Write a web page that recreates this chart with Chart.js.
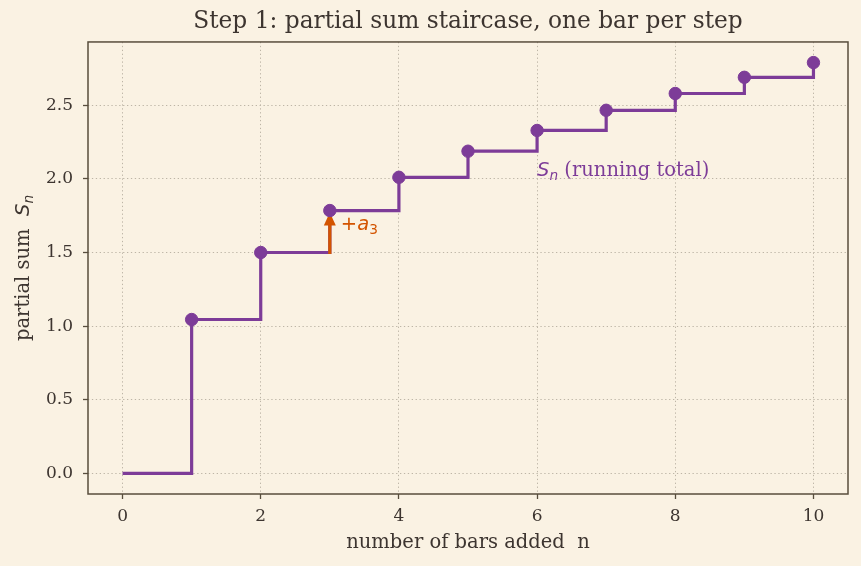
<!DOCTYPE html>
<html>
<head>
<meta charset="utf-8">
<script src="https://cdn.jsdelivr.net/npm/chart.js@4/dist/chart.umd.min.js"></script>
<style>
  html, body { margin: 0; padding: 0; background: #faf2e3; }
  #wrap { width: 861px; height: 566px; }
</style>
</head>
<body>
<div id="wrap"><canvas id="c" width="861" height="566"></canvas></div>
<script>
// ---- data ----
const barsAdded = [0, 1, 2, 3, 4, 5, 6, 7, 8, 9, 10];
const partialSums = [0, 1.045, 1.50, 1.785, 2.011, 2.188, 2.329, 2.466, 2.58, 2.69, 2.79];
const xTickValues = [0, 2, 4, 6, 8, 10];
const yTickValues = [0, 0.5, 1.0, 1.5, 2.0, 2.5];
const highlightStep = 3;
const chartTitle = 'Step 1: partial sum staircase, one bar per step';
const xAxisTitle = 'number of bars added  n';
const yAxisTitleText = 'partial sum  ';
const runningLabelText = ' (running total)';
const runningLabelAt = { x: 6.0, y: 2.022 };
const stepLabelAt = { x: 3.16, y: 1.64 };

// ---- styles ----
const BG = '#faf2e3';
const INK = '#3d3530';
const FRAME = '#584d3d';
const PURPLE = '#7d3c98';
const ORANGE = '#d35400';
const GRID = '#bdb5a6';
const SERIF = "'DejaVu Serif', 'Liberation Serif', serif";
const SANS = "'DejaVu Sans', sans-serif";
const LABEL_PX = 19.5;
const SUB_PX = 13.7;

const pts = barsAdded.map((n, i) => ({ x: n, y: partialSums[i] }));
const markerPts = pts.slice(1);

const decorPlugin = {
  id: 'decor',
  beforeDraw(chart) {
    const ctx = chart.ctx;
    ctx.save();
    ctx.fillStyle = BG;
    ctx.fillRect(0, 0, chart.width, chart.height);
    ctx.restore();
  },
  afterDatasetDraw(chart, args) {
    if (args.index !== 0) return;
    const ctx = chart.ctx;
    const xs = chart.scales.x, ys = chart.scales.y;
    const x = xs.getPixelForValue(barsAdded[highlightStep]);
    const yFrom = ys.getPixelForValue(partialSums[highlightStep - 1]);
    const yTip = ys.getPixelForValue(partialSums[highlightStep]) + 2;
    const headLen = 13, headHalf = 6;
    ctx.save();
    ctx.strokeStyle = ORANGE;
    ctx.fillStyle = ORANGE;
    ctx.lineWidth = 3.2;
    ctx.beginPath();
    ctx.moveTo(x, yFrom + 1.5);
    ctx.lineTo(x, yTip + headLen - 1);
    ctx.stroke();
    ctx.beginPath();
    ctx.moveTo(x, yTip);
    ctx.lineTo(x - headHalf, yTip + headLen);
    ctx.lineTo(x + headHalf, yTip + headLen);
    ctx.closePath();
    ctx.fill();
    ctx.restore();
  },
  afterDatasetsDraw(chart) {
    const ctx = chart.ctx;
    const a = chart.chartArea;
    const xs = chart.scales.x, ys = chart.scales.y;
    ctx.save();
    // frame
    ctx.strokeStyle = FRAME;
    ctx.lineWidth = 1.5;
    ctx.strokeRect(a.left, a.top, a.right - a.left, a.bottom - a.top);

    // "+a3" label
    let px = xs.getPixelForValue(stepLabelAt.x);
    let py = ys.getPixelForValue(stepLabelAt.y) - 2;
    ctx.fillStyle = ORANGE;
    ctx.textBaseline = 'alphabetic';
    ctx.textAlign = 'left';
    ctx.font = LABEL_PX + 'px ' + SANS;
    ctx.fillText('+', px, py);
    px += ctx.measureText('+').width;
    ctx.font = 'oblique ' + LABEL_PX + 'px ' + SANS;
    ctx.fillText('a', px, py);
    px += ctx.measureText('a').width;
    ctx.font = SUB_PX + 'px ' + SANS;
    ctx.fillText(String(highlightStep), px, py + 4);

    // "S_n (running total)" label
    px = xs.getPixelForValue(runningLabelAt.x);
    py = ys.getPixelForValue(runningLabelAt.y);
    ctx.fillStyle = PURPLE;
    ctx.font = 'oblique ' + LABEL_PX + 'px ' + SANS;
    ctx.fillText('S', px, py);
    px += ctx.measureText('S').width;
    ctx.font = 'oblique ' + SUB_PX + 'px ' + SANS;
    ctx.fillText('n', px, py + 4);
    px += ctx.measureText('n').width;
    ctx.font = LABEL_PX + 'px ' + SERIF;
    ctx.fillText(runningLabelText, px, py);

    // y axis title (rotated, with math S_n)
    const cy = (a.top + a.bottom) / 2;
    ctx.translate(29, cy);
    ctx.rotate(-Math.PI / 2);
    ctx.fillStyle = INK;
    ctx.font = LABEL_PX + 'px ' + SERIF;
    const w1 = ctx.measureText(yAxisTitleText).width;
    ctx.font = 'oblique ' + LABEL_PX + 'px ' + SANS;
    const w2 = ctx.measureText('S').width;
    ctx.font = 'oblique ' + SUB_PX + 'px ' + SANS;
    const w3 = ctx.measureText('n').width;
    let tx = -(w1 + w2 + w3) / 2;
    ctx.font = LABEL_PX + 'px ' + SERIF;
    ctx.fillText(yAxisTitleText, tx, 0);
    tx += w1;
    ctx.font = 'oblique ' + LABEL_PX + 'px ' + SANS;
    ctx.fillText('S', tx, 0);
    tx += w2;
    ctx.font = 'oblique ' + SUB_PX + 'px ' + SANS;
    ctx.fillText('n', tx, 4);
    ctx.restore();
  }
};

new Chart(document.getElementById('c'), {
  type: 'line',
  data: {
    datasets: [
      {
        label: 'S_n (running total)',
        data: pts,
        borderColor: PURPLE,
        borderWidth: 3.2,
        stepped: 'before',
        pointRadius: 0,
        fill: false,
        order: 3
      },
      {
        label: 'markers',
        data: markerPts,
        showLine: false,
        pointRadius: 6.2,
        pointBorderWidth: 1,
        pointBackgroundColor: PURPLE,
        pointBorderColor: PURPLE,
        order: 1
      }
    ]
  },
  options: {
    responsive: false,
    devicePixelRatio: 1,
    animation: false,
    layout: { padding: { left: 0, right: 13, top: 0, bottom: 0 } },
    plugins: {
      legend: { display: false },
      tooltip: { enabled: false },
      title: {
        display: true,
        fullSize: false,
        text: chartTitle,
        color: INK,
        font: { family: SERIF, size: 23.3, weight: 'normal', lineHeight: 1.2 },
        padding: { top: 8, bottom: 6 }
      }
    },
    scales: {
      x: {
        type: 'linear',
        min: -0.5,
        max: 10.5,
        afterBuildTicks(scale) { scale.ticks = xTickValues.map(v => ({ value: v })); },
        afterFit(scale) { scale.height = 72; },
        ticks: {
          color: INK,
          font: { family: SERIF, size: 17 },
          padding: 7,
          callback: v => String(v)
        },
        grid: {
          color: GRID,
          lineWidth: 1,
          drawTicks: true,
          tickLength: 5,
          tickColor: FRAME,
          tickWidth: 1.3,
          tickBorderDash: []
        },
        border: { display: false, dash: [1.3, 2.6] },
        title: {
          display: true,
          text: xAxisTitle,
          color: INK,
          font: { family: SERIF, size: LABEL_PX, lineHeight: 1.2 },
          padding: { top: 0, bottom: 11 }
        }
      },
      y: {
        type: 'linear',
        min: -0.14,
        max: 2.93,
        afterBuildTicks(scale) { scale.ticks = yTickValues.map(v => ({ value: v })); },
        afterFit(scale) { scale.width = 88; },
        ticks: {
          color: INK,
          font: { family: SERIF, size: 17 },
          padding: 10,
          callback: v => Number(v).toFixed(1)
        },
        grid: {
          color: GRID,
          lineWidth: 1,
          drawTicks: true,
          tickLength: 5,
          tickColor: FRAME,
          tickWidth: 1.3,
          tickBorderDash: []
        },
        border: { display: false, dash: [1.3, 2.6] },
        title: { display: false }
      }
    }
  },
  plugins: [decorPlugin]
});
</script>
</body>
</html>
